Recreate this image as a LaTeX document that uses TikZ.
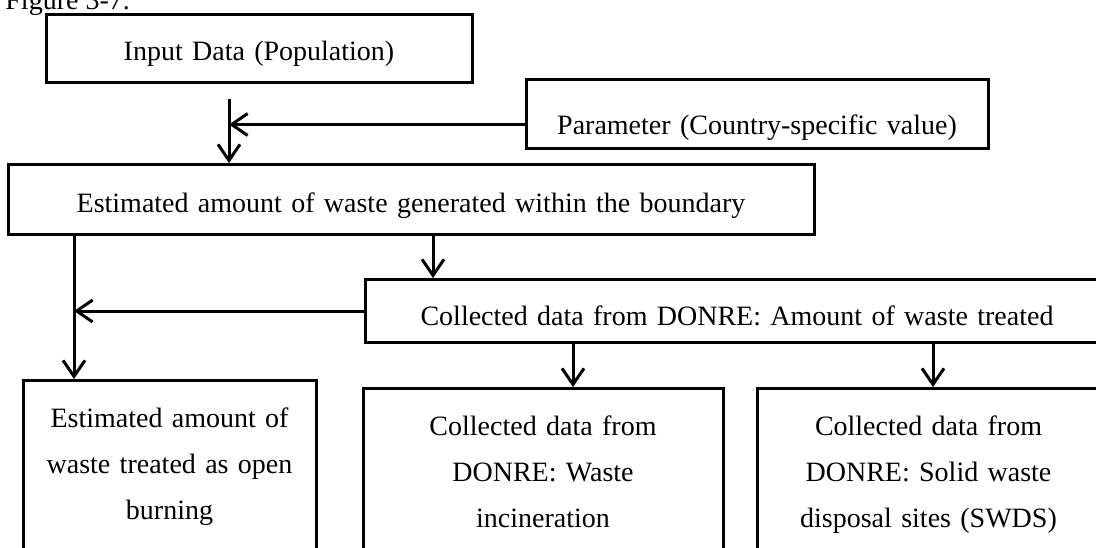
\documentclass[tikz,border=0pt]{standalone}
\usepackage{fontspec}
\setmainfont{Liberation Serif}
\usetikzlibrary{arrows.meta}
\begin{document}
\begin{tikzpicture}[x=0.5pt,y=-0.5pt,
  every node/.style={font=\fontsize{14pt}{23pt}\selectfont},
  box/.style={draw, line width=1.5pt, anchor=north, inner xsep=0pt, inner ysep=0pt, align=center},
  arr/.style={line width=1.5pt, -{Straight Barb[length=8pt,width=11pt]}}
]
\useasboundingbox (0,0) rectangle (1096,547);

% caption above the chart
\node[anchor=base west, inner sep=0pt] (fig) at (5,9) {Figure 3-7.};

% boxes (anchored at the middle of their top edge)
\node[box, text width=213pt, text height=23pt, text depth=11pt] (inp) at (259,13)
  {Input Data (Population)};
\node[box, text width=231pt, text height=27.5pt, text depth=7pt] (par) at (757,78)
  {Parameter (Country-specific value)};
\node[box, text width=403pt, text height=24pt, text depth=11pt] (gen) at (411,163)
  {Estimated amount of waste generated within the boundary};
\node[box, text width=372pt, text height=23pt, text depth=8.5pt] (col) at (737,278)
  {Collected data from DONRE: Amount of waste treated};
\node[box, text width=146.5pt, text height=23.5pt, text depth=120pt] (burn) at (169.5,379)
  {Estimated amount of\\waste treated as open\\burning};
\node[box, text width=180pt, text height=23.5pt, text depth=120pt] (inc) at (543,387)
  {Collected data from\\DONRE: Waste\\incineration};
\node[box, text width=171.5pt, text height=23.5pt, text depth=120pt] (swds) at (928.5,387)
  {Collected data from\\DONRE: Solid waste\\disposal sites (SWDS)};

% guide coordinates for the connectors
\coordinate (ptop) at (229,99);
\coordinate (pin) at ([yshift=-5.25pt]par.west);
\coordinate (lx) at (74,0);
\coordinate (mx) at (433,0);
\coordinate (ix) at (573,0);
\coordinate (sx) at (933,0);

% connectors
\draw[arr] (pin) -- (pin -| ptop);
\draw[arr] (ptop) -- (ptop |- gen.north);
\draw[arr] (lx |- gen.south) -- (lx |- burn.north);
\draw[arr] (col.west) -- (col.west -| lx);
\draw[arr] (mx |- gen.south) -- (mx |- col.north);
\draw[arr] (ix |- col.south) -- (ix |- inc.north);
\draw[arr] (sx |- col.south) -- (sx |- swds.north);
\end{tikzpicture}
\end{document}
